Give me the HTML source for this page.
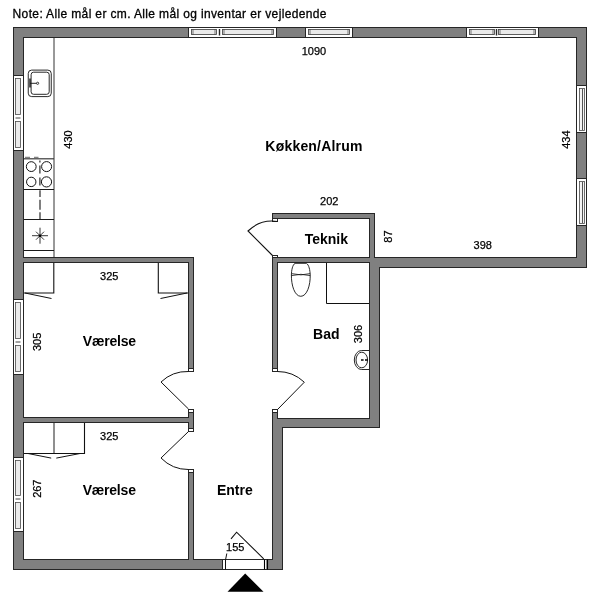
<!DOCTYPE html>
<html><head><meta charset="utf-8">
<style>
html,body{margin:0;padding:0;background:#fff;width:600px;height:600px;overflow:hidden}
svg{display:block;will-change:transform}
text{font-family:"Liberation Sans",sans-serif;fill:#000}
.d{font-size:11px;stroke:#000;stroke-width:0.25px}
.b{font-size:14px;font-weight:bold}
</style></head><body>
<svg width="600" height="600" viewBox="0 0 600 600">
<defs>
<filter id="er" x="0" y="0" width="600" height="600" filterUnits="userSpaceOnUse"><feMorphology operator="erode" radius="1"/></filter>
</defs>
<g fill="#262626">
<rect x="13" y="27" width="574" height="11"/>
<rect x="576" y="27" width="11" height="241"/>
<rect x="369" y="257" width="218" height="11"/>
<rect x="369" y="257" width="11" height="171"/>
<rect x="272" y="418" width="108" height="10"/>
<rect x="272" y="418" width="11" height="152"/>
<rect x="13" y="559" width="270" height="11"/>
<rect x="13" y="27" width="11" height="543"/>
<rect x="272" y="213" width="103" height="6"/>
<rect x="369" y="213" width="6" height="50"/>
<rect x="272" y="257" width="103" height="6"/>
<rect x="272" y="213" width="6" height="9"/>
<rect x="272" y="255" width="6" height="116"/>
<rect x="272" y="409" width="6" height="19"/>
<rect x="13" y="257" width="181" height="6"/>
<rect x="188" y="257" width="6" height="114"/>
<rect x="188" y="409" width="6" height="22"/>
<rect x="188" y="469" width="6" height="101"/>
<rect x="13" y="417" width="181" height="6"/>
</g>
<g filter="url(#er)" fill="#808080">
<rect x="13" y="27" width="574" height="11"/>
<rect x="576" y="27" width="11" height="241"/>
<rect x="369" y="257" width="218" height="11"/>
<rect x="369" y="257" width="11" height="171"/>
<rect x="272" y="418" width="108" height="10"/>
<rect x="272" y="418" width="11" height="152"/>
<rect x="13" y="559" width="270" height="11"/>
<rect x="13" y="27" width="11" height="543"/>
<rect x="272" y="213" width="103" height="6"/>
<rect x="369" y="213" width="6" height="50"/>
<rect x="272" y="257" width="103" height="6"/>
<rect x="272" y="213" width="6" height="9"/>
<rect x="272" y="255" width="6" height="116"/>
<rect x="272" y="409" width="6" height="19"/>
<rect x="13" y="257" width="181" height="6"/>
<rect x="188" y="257" width="6" height="114"/>
<rect x="188" y="409" width="6" height="22"/>
<rect x="188" y="469" width="6" height="101"/>
<rect x="13" y="417" width="181" height="6"/>
</g>
<rect x="188.5" y="27.5" width="88" height="10" fill="#fff" stroke="#262626" stroke-width="1"/>
<rect x="191.5" y="29.5" width="25" height="5" fill="#ebebeb" stroke="#444" stroke-width="0.85"/>
<path d="M193,29.5V34.5M215,29.5V34.5" stroke="#262626" stroke-width="0.6"/>
<rect x="222.5" y="29.5" width="51" height="5" fill="#ebebeb" stroke="#444" stroke-width="0.85"/>
<path d="M224,29.5V34.5M272,29.5V34.5" stroke="#262626" stroke-width="0.6"/>
<path d="M219.5,29V35.5" stroke="#262626" stroke-width="1.4"/>
<rect x="305.5" y="27.5" width="47" height="10" fill="#fff" stroke="#262626" stroke-width="1"/>
<rect x="308.5" y="29.5" width="41" height="5" fill="#ebebeb" stroke="#444" stroke-width="0.85"/>
<path d="M310,29.5V34.5M348,29.5V34.5" stroke="#262626" stroke-width="0.6"/>
<rect x="466.5" y="27.5" width="72" height="10" fill="#fff" stroke="#262626" stroke-width="1"/>
<rect x="469.5" y="29.5" width="25" height="5" fill="#ebebeb" stroke="#444" stroke-width="0.85"/>
<path d="M471,29.5V34.5M493,29.5V34.5" stroke="#262626" stroke-width="0.6"/>
<rect x="498.5" y="29.5" width="37" height="5" fill="#ebebeb" stroke="#444" stroke-width="0.85"/>
<path d="M500,29.5V34.5M534,29.5V34.5" stroke="#262626" stroke-width="0.6"/>
<path d="M496.5,29V35.5" stroke="#262626" stroke-width="1.4"/>
<rect x="576.5" y="85.5" width="10" height="47" fill="#fff" stroke="#262626" stroke-width="1"/>
<rect x="579.5" y="88.5" width="5" height="42" fill="#f4f4f4" stroke="#4a4a4a" stroke-width="0.8"/>
<path d="M582.5,89V130" stroke="#555" stroke-width="1"/>
<rect x="576.5" y="178.5" width="10" height="47" fill="#fff" stroke="#262626" stroke-width="1"/>
<rect x="579.5" y="181.5" width="5" height="42" fill="#f4f4f4" stroke="#4a4a4a" stroke-width="0.8"/>
<path d="M582.5,182V223" stroke="#555" stroke-width="1"/>
<rect x="13.5" y="75.5" width="10" height="75" fill="#fff" stroke="#262626" stroke-width="1"/>
<rect x="15.5" y="78.5" width="5" height="36" fill="#ebebeb" stroke="#4a4a4a" stroke-width="0.8"/>
<rect x="15.5" y="121.5" width="5" height="26" fill="#ebebeb" stroke="#4a4a4a" stroke-width="0.8"/>
<path d="M15.5,118H20.5" stroke="#444" stroke-width="1"/>
<rect x="13.5" y="299.5" width="10" height="75" fill="#fff" stroke="#262626" stroke-width="1"/>
<rect x="15.5" y="302.5" width="5" height="36" fill="#ebebeb" stroke="#4a4a4a" stroke-width="0.8"/>
<rect x="15.5" y="345.5" width="5" height="26" fill="#ebebeb" stroke="#4a4a4a" stroke-width="0.8"/>
<path d="M15.5,342H20.5" stroke="#444" stroke-width="1"/>
<rect x="13.5" y="457.5" width="10" height="74" fill="#fff" stroke="#262626" stroke-width="1"/>
<rect x="15.5" y="460.5" width="5" height="35" fill="#ebebeb" stroke="#4a4a4a" stroke-width="0.8"/>
<rect x="15.5" y="502.5" width="5" height="26" fill="#ebebeb" stroke="#4a4a4a" stroke-width="0.8"/>
<path d="M15.5,499H20.5" stroke="#444" stroke-width="1"/>
<rect x="272.5" y="218.5" width="5" height="3" fill="#fff" stroke="#262626" stroke-width="1"/>
<rect x="272.5" y="255.5" width="5" height="2" fill="#fff" stroke="#262626" stroke-width="1"/>
<rect x="272.5" y="368.5" width="5" height="3" fill="#fff" stroke="#262626" stroke-width="1"/>
<rect x="272.5" y="409.5" width="5" height="3" fill="#fff" stroke="#262626" stroke-width="1"/>
<rect x="188.5" y="368.5" width="5" height="3" fill="#fff" stroke="#262626" stroke-width="1"/>
<rect x="188.5" y="409.5" width="5" height="3" fill="#fff" stroke="#262626" stroke-width="1"/>
<rect x="188.5" y="428.5" width="5" height="3" fill="#fff" stroke="#262626" stroke-width="1"/>
<rect x="188.5" y="469.5" width="5" height="3" fill="#fff" stroke="#262626" stroke-width="1"/>
<path d="M272.5,255.5 L248,231 A35,35 0 0 1 277.5,221.5" stroke="#111" fill="none" stroke-width="1.1"/>
<path d="M277.5,409.5 L304.3,382.2 A39,39 0 0 0 277.5,371.5" stroke="#111" fill="none" stroke-width="1"/>
<path d="M188.5,409 L161,382 A38,38 0 0 1 188.5,371.5" stroke="#111" fill="none" stroke-width="1"/>
<path d="M188.5,431.5 L161,458 A38,38 0 0 0 188.5,469.5" stroke="#111" fill="none" stroke-width="1"/>
<rect x="222.5" y="559.5" width="44.5" height="10" fill="#fff" stroke="#262626" stroke-width="1"/>
<path d="M225.5,569.5V559.5M225.5,560L226.8,553.5" stroke="#111" fill="none" stroke-width="1"/>
<path d="M264.5,559.5V569.5M267.5,559.5V569.5" stroke="#000" stroke-width="1.1"/>
<path d="M231,538.8 L236.6,532.2 L263.7,558.8" stroke="#111" fill="none" stroke-width="1.1"/>
<polygon points="245.2,573.4 227.5,591.7 263.5,591.7" fill="#000"/>
<path d="M54,38V257" stroke="#333" stroke-width="1"/>
<path d="M24,158.8H54" stroke="#3a3a3a" stroke-width="1.2"/>
<path d="M24,189.5H54M24,219.5H54M24,250.5H54" stroke="#1a1a1a" stroke-width="1"/>
<circle cx="31.25" cy="166.6" r="4.9" stroke="#111" fill="none" stroke-width="1"/>
<circle cx="46.6" cy="166.6" r="5" stroke="#111" fill="none" stroke-width="1"/>
<circle cx="31.25" cy="181.9" r="4.7" stroke="#111" fill="none" stroke-width="1"/>
<circle cx="46.5" cy="181.9" r="5.1" stroke="#111" fill="none" stroke-width="1"/>
<path d="M39.9,160.5V162.5M39.9,165.5V173.5M39.9,177.5V185.5M40,190.3V197M40,199.7V209.7M40,212.3V219" stroke="#2a2a2a" stroke-width="1.2" fill="none"/>
<path d="M25,157.3H30M34,157.3H38.5" stroke="#666" stroke-width="1"/>
<path d="M32,235.7H48M40,227.7V243.7M36,231.7L44,239.7M44,231.7L36,239.7" stroke="#222" stroke-width="0.9" fill="none"/>
<circle cx="40" cy="235.7" r="1.3" fill="#000"/>
<rect x="28.25" y="70.1" width="23" height="26.5" rx="3.4" stroke="#111" fill="none" stroke-width="0.9"/>
<rect x="31.1" y="72.2" width="18.1" height="22.1" rx="2.5" stroke="#111" fill="none" stroke-width="0.9"/>
<path d="M30,78.5V87.5" stroke="#111" stroke-width="1.4"/>
<path d="M30,83.3H36.5" stroke="#111" stroke-width="0.9"/>
<circle cx="37.6" cy="83.3" r="1.1" stroke="#111" fill="none" stroke-width="0.8"/>
<path d="M53.8,263V293H24" stroke="#111" fill="none" stroke-width="1.1"/>
<path d="M25,293L51.5,298.5" stroke="#111" fill="none" stroke-width="1"/>
<path d="M158.3,263V293H188" stroke="#111" fill="none" stroke-width="1.1"/>
<path d="M187,293L160.5,298.5" stroke="#111" fill="none" stroke-width="1"/>
<path d="M24,453.5H84.5V423" stroke="#111" fill="none" stroke-width="1.1"/>
<path d="M54,423V453" stroke="#333" stroke-width="1.1"/>
<path d="M28,453.5L51.2,458.1M56.3,458.1L80,453.5" stroke="#111" fill="none" stroke-width="1"/>
<path d="M295,263.3 H306.5 C309,265 310,270 310.2,275 C310.5,285 307,296.3 300.8,296.3 C294.6,296.3 291.2,285 291.4,275 C291.5,270 292.5,265 295,263.3Z" stroke="#111" fill="none" stroke-width="0.9"/>
<path d="M291.5,273.6 Q301,276.2 310.2,273.6 M291.5,275.6 Q301,273 310.2,275.6" stroke="#111" fill="none" stroke-width="0.8"/>
<path d="M326.5,263V303.5H369" stroke="#111" fill="none" stroke-width="1"/>
<path d="M369,350.5 H361.5 A7.2,9.5 0 0 0 361.5,369.5 H369" stroke="#111" fill="none" stroke-width="0.9"/>
<ellipse cx="361.8" cy="360" rx="5.8" ry="7.8" stroke="#111" fill="none" stroke-width="0.9"/>
<path d="M361,360H367.8" stroke="#000" stroke-width="1.5" stroke-dasharray="2.6,1.4"/>
<text x="12.6" y="18.3" style="font-size:12px;letter-spacing:0.36px;stroke:#000;stroke-width:0.3px">Note: Alle mål er cm. Alle mål og inventar er vejledende</text>
<text class="d" x="314" y="54.6" text-anchor="middle">1090</text>
<text class="b" x="314.0" y="151.3" text-anchor="middle" style="letter-spacing:0.2px">Køkken/Alrum</text>
<text class="d" x="329.2" y="205" text-anchor="middle">202</text>
<text class="b" x="326.3" y="244" text-anchor="middle">Teknik</text>
<text class="d" x="482.7" y="248.7" text-anchor="middle">398</text>
<text class="d" x="109.2" y="280.1" text-anchor="middle">325</text>
<text class="d" x="109.2" y="440.4" text-anchor="middle">325</text>
<text class="b" x="109.4" y="346.0" text-anchor="middle" style="letter-spacing:-0.2px">Værelse</text>
<text class="b" x="109.2" y="495.4" text-anchor="middle" style="letter-spacing:-0.2px">Værelse</text>
<text class="b" x="326.3" y="339.3" text-anchor="middle">Bad</text>
<text class="b" x="234.8" y="495.2" text-anchor="middle">Entre</text>
<text class="d" x="235.2" y="550.8" text-anchor="middle">155</text>
<text class="d" x="0" y="0" text-anchor="middle" transform="translate(67.5,139.5) rotate(-90)" dominant-baseline="central">430</text>
<text class="d" x="0" y="0" text-anchor="middle" transform="translate(566,139.6) rotate(-90)" dominant-baseline="central">434</text>
<text class="d" x="0" y="0" text-anchor="middle" transform="translate(388,236.5) rotate(-90)" dominant-baseline="central">87</text>
<text class="d" x="0" y="0" text-anchor="middle" transform="translate(37.2,341.9) rotate(-90)" dominant-baseline="central">305</text>
<text class="d" x="0" y="0" text-anchor="middle" transform="translate(357.5,334) rotate(-90)" dominant-baseline="central">306</text>
<text class="d" x="0" y="0" text-anchor="middle" transform="translate(36.8,488.7) rotate(-90)" dominant-baseline="central">267</text>
</svg></body></html>
